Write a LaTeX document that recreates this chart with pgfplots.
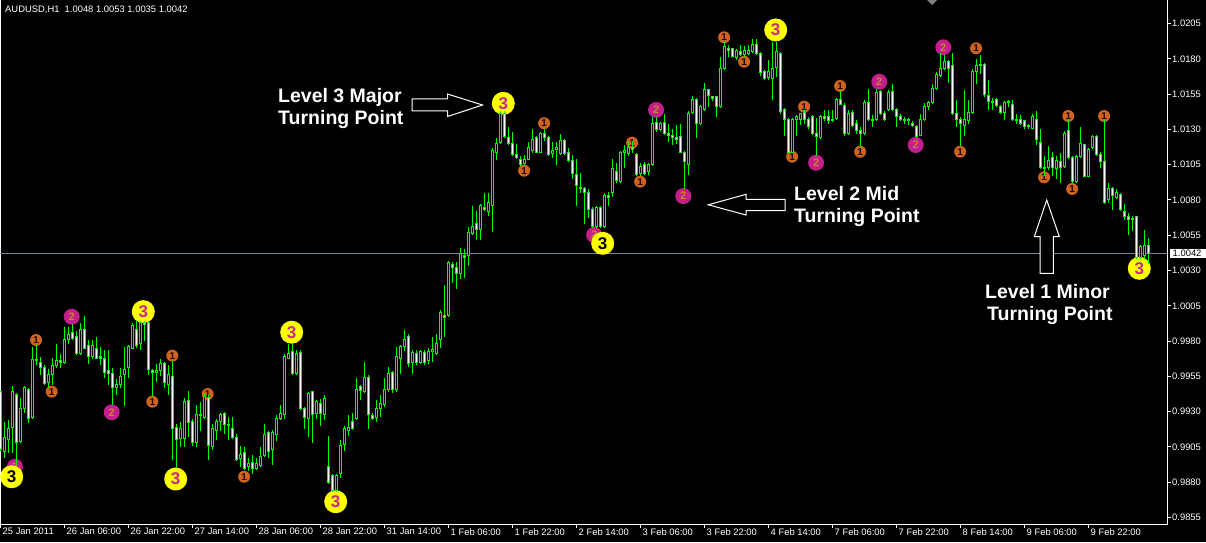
\documentclass[border=0pt]{standalone}
\usepackage{pgfplots}
\pgfplotsset{compat=1.18}
\usepackage{pgfplotstable}
\usepackage{fontspec}
\setmainfont{Liberation Sans}
\definecolor{candle}{RGB}{0,255,0}
\definecolor{tpyel}{RGB}{255,255,0}
\definecolor{tpmag}{RGB}{196,30,140}
\definecolor{tpdig}{RGB}{200,40,150}
\definecolor{tporg}{RGB}{205,100,30}
\definecolor{tptwo}{RGB}{200,130,40}
\definecolor{pricegray}{RGB}{119,136,153}
\newcommand\tickfont{\fontsize{9.4}{11}\selectfont}
\newcommand\annfont{\fontsize{19.5}{22}\selectfont\bfseries}

\newcommand\drawcandle{%
  \begingroup
  \pgfkeys{/pgf/fpu=true,/pgf/fpu/output format=fixed}%
  \pgfmathparse{(\candC-\candO)*14112.2}\xdef\cdB{\pgfmathresult}%
  \pgfmathparse{(\candH-\candO)*14112.2}\xdef\cdH{\pgfmathresult}%
  \pgfmathparse{(\candL-\candO)*14112.2}\xdef\cdL{\pgfmathresult}%
  \endgroup
  \pgfscope
  \pgfsetlinewidth{1pt}%
  \pgfsetstrokecolor{candle}%
  \pgfpathmoveto{\pgfpoint{0pt}{\cdL pt}}%
  \pgfpathlineto{\pgfpoint{0pt}{\cdH pt}}%
  \pgfusepathqstroke
  \ifdim\cdB pt<0pt \pgfsetfillcolor{white}\else\pgfsetfillcolor{black}\fi
  \pgfpathrectangle{\pgfpoint{-1pt}{0pt}}{\pgfpoint{2pt}{\cdB pt}}%
  \pgfusepathqfillstroke
  \endpgfscope}
\pgfdeclareplotmark{candlemk}{\drawcandle}
\pgfdeclareplotmark{tpthree}{\pgfscope
  \pgfpathcircle{\pgfpointorigin}{11.5pt}\pgfsetfillcolor{tpyel}\pgfusepathqfill
  \pgftext{\fontsize{17}{17}\selectfont\bfseries\color{tpdig}3}\endpgfscope}
\pgfdeclareplotmark{tpthreeb}{\pgfscope
  \pgfpathcircle{\pgfpointorigin}{11.5pt}\pgfsetfillcolor{tpyel}\pgfusepathqfill
  \pgftext{\fontsize{17}{17}\selectfont\bfseries\color{black}3}\endpgfscope}
\pgfdeclareplotmark{tptwo}{\pgfscope
  \pgfpathcircle{\pgfpointorigin}{8pt}\pgfsetfillcolor{tpmag}\pgfusepathqfill
  \pgftext{\fontsize{11}{11}\selectfont\bfseries\color{tptwo}2}\endpgfscope}
\pgfdeclareplotmark{tpone}{\pgfscope
  \pgfpathcircle{\pgfpointorigin}{6pt}\pgfsetfillcolor{tporg}\pgfusepathqfill
  \pgftext{\fontsize{10}{10}\selectfont\bfseries\color{black!85!red}1}\endpgfscope}

\pgfplotstableread{
i o h l c
0 0.9944 0.9945 0.9902 0.9903
1 0.9902 0.9923 0.9897 0.9912
2 0.9910 0.9924 0.9901 0.9918
3 0.9919 0.9948 0.9901 0.9944
4 0.9942 0.9943 0.9892 0.9908
5 0.9909 0.9940 0.9908 0.9932
6 0.9932 0.9948 0.9929 0.9947
7 0.9946 0.9947 0.9922 0.9925
8 0.9926 0.9976 0.9925 0.9967
9 0.9967 0.9977 0.9963 0.9966
10 0.9965 0.9969 0.9956 0.9961
11 0.9961 0.9963 0.9949 0.9950
12 0.9951 0.9960 0.9947 0.9956
13 0.9956 0.9968 0.9949 0.9963
14 0.9963 0.9978 0.9961 0.9966
15 0.9966 0.9971 0.9961 0.9965
16 0.9965 0.9990 0.9964 0.9981
17 0.9981 0.9990 0.9978 0.9985
18 0.9986 0.9992 0.9981 0.9982
19 0.9983 0.9987 0.9970 0.9971
20 0.9971 0.9993 0.9970 0.9988
21 0.9988 0.9998 0.9975 0.9975
22 0.9977 0.9981 0.9964 0.9969
23 0.9969 0.9981 0.9967 0.9977
24 0.9975 0.9983 0.9967 0.9968
25 0.9969 0.9976 0.9963 0.9968
26 0.9968 0.9974 0.9954 0.9958
27 0.9959 0.9974 0.9949 0.9957
28 0.9957 0.9961 0.9935 0.9947
29 0.9947 0.9953 0.9942 0.9949
30 0.9949 0.9961 0.9947 0.9955
31 0.9956 0.9976 0.9934 0.9960
32 0.9961 0.9977 0.9954 0.9976
33 0.9975 0.9993 0.9975 0.9991
34 0.9988 0.9994 0.9975 0.9977
35 0.9978 0.9994 0.9974 0.9993
36 0.9993 0.9994 0.9980 0.9992
37 0.9993 0.9994 0.9956 0.9960
38 0.9959 0.9960 0.9941 0.9958
39 0.9958 0.9964 0.9951 0.9959
40 0.9959 0.9967 0.9955 0.9964
41 0.9964 0.9965 0.9947 0.9951
42 0.9949 0.9963 0.9942 0.9956
43 0.9955 0.9966 0.9896 0.9918
44 0.9919 0.9921 0.9890 0.9910
45 0.9911 0.9923 0.9905 0.9918
46 0.9911 0.9940 0.9905 0.9937
47 0.9938 0.9945 0.9912 0.9922
48 0.9923 0.9925 0.9906 0.9908
49 0.9908 0.9935 0.9905 0.9928
50 0.9928 0.9937 0.9916 0.9927
51 0.9926 0.9943 0.9925 0.9941
52 0.9940 0.9942 0.9896 0.9906
53 0.9905 0.9921 0.9903 0.9918
54 0.9917 0.9925 0.9910 0.9923
55 0.9923 0.9929 0.9916 0.9928
56 0.9929 0.9930 0.9914 0.9921
57 0.9921 0.9926 0.9910 0.9920
58 0.9918 0.9926 0.9911 0.9912
59 0.9912 0.9914 0.9895 0.9896
60 0.9897 0.9906 0.9891 0.9900
61 0.9901 0.9905 0.9889 0.9890
62 0.9891 0.9897 0.9888 0.9893
63 0.9894 0.9899 0.9886 0.9890
64 0.9890 0.9897 0.9889 0.9893
65 0.9892 0.9905 0.9891 0.9898
66 0.9899 0.9921 0.9898 0.9914
67 0.9915 0.9916 0.9897 0.9902
68 0.9903 0.9917 0.9892 0.9915
69 0.9914 0.9928 0.9909 0.9925
70 0.9925 0.9935 0.9924 0.9929
71 0.9928 0.9971 0.9925 0.9969
72 0.9968 0.9978 0.9967 0.9971
73 0.9973 0.9978 0.9956 0.9957
74 0.9957 0.9974 0.9956 0.9971
75 0.9972 0.9974 0.9931 0.9932
76 0.9932 0.9933 0.9918 0.9926
77 0.9925 0.9944 0.9912 0.9943
78 0.9944 0.9945 0.9908 0.9928
79 0.9929 0.9938 0.9925 0.9937
80 0.9936 0.9939 0.9920 0.9929
81 0.9928 0.9942 0.9924 0.9939
82 0.9891 0.9913 0.9879 0.9880
83 0.9885 0.9886 0.9873 0.9874
84 0.9874 0.9886 0.9873 0.9885
85 0.9886 0.9910 0.9883 0.9906
86 0.9907 0.9920 0.9902 0.9918
87 0.9917 0.9928 0.9913 0.9919
88 0.9923 0.9929 0.9917 0.9918
89 0.9925 0.9954 0.9924 0.9946
90 0.9948 0.9949 0.9938 0.9945
91 0.9944 0.9965 0.9943 0.9954
92 0.9954 0.9956 0.9918 0.9928
93 0.9927 0.9929 0.9924 0.9925
94 0.9926 0.9938 0.9923 0.9932
95 0.9932 0.9942 0.9926 0.9936
96 0.9935 0.9954 0.9933 0.9946
97 0.9946 0.9962 0.9944 0.9957
98 0.9958 0.9959 0.9943 0.9946
99 0.9946 0.9976 0.9944 0.9969
100 0.9968 0.9977 0.9957 0.9976
101 0.9976 0.9988 0.9973 0.9981
102 0.9983 0.9985 0.9962 0.9964
103 0.9965 0.9974 0.9957 0.9972
104 0.9971 0.9974 0.9963 0.9965
105 0.9965 0.9974 0.9964 0.9973
106 0.9972 0.9974 0.9963 0.9965
107 0.9966 0.9975 0.9964 0.9973
108 0.9973 0.9983 0.9965 0.9974
109 0.9971 0.9985 0.9970 0.9978
110 0.9981 1.0002 0.9975 1.0000
111 0.9998 1.0020 0.9983 0.9997
112 0.9998 1.0037 0.9997 1.0036
113 1.0034 1.0036 1.0021 1.0032
114 1.0032 1.0036 1.0017 1.0028
115 1.0028 1.0046 1.0024 1.0042
116 1.0041 1.0045 1.0025 1.0039
117 1.0041 1.0061 1.0033 1.0057
118 1.0056 1.0076 1.0055 1.0061
119 1.0063 1.0072 1.0052 1.0059
120 1.0059 1.0077 1.0052 1.0076
121 1.0075 1.0085 1.0072 1.0073
122 1.0072 1.0085 1.0069 1.0078
123 1.0076 1.0117 1.0057 1.0115
124 1.0114 1.0124 1.0108 1.0120
125 1.0121 1.0143 1.0120 1.0141
126 1.0141 1.0143 1.0124 1.0125
127 1.0124 1.0132 1.0119 1.0120
128 1.0120 1.0128 1.0111 1.0112
129 1.0112 1.0120 1.0109 1.0110
130 1.0109 1.0111 1.0104 1.0105
131 1.0106 1.0112 1.0105 1.0109
132 1.0109 1.0121 1.0108 1.0117
133 1.0115 1.0130 1.0113 1.0123
134 1.0124 1.0125 1.0113 1.0114
135 1.0114 1.0128 1.0113 1.0127
136 1.0127 1.0130 1.0122 1.0124
137 1.0124 1.0125 1.0111 1.0112
138 1.0113 1.0121 1.0110 1.0115
139 1.0116 1.0121 1.0105 1.0117
140 1.0113 1.0127 1.0112 1.0122
141 1.0122 1.0123 1.0112 1.0113
142 1.0114 1.0117 1.0107 1.0108
143 1.0108 1.0112 1.0095 1.0099
144 1.0098 1.0109 1.0076 1.0090
145 1.0089 1.0099 1.0085 1.0088
146 1.0088 1.0089 1.0063 1.0085
147 1.0085 1.0088 1.0067 1.0073
148 1.0073 1.0075 1.0060 1.0061
149 1.0061 1.0076 1.0060 1.0075
150 1.0075 1.0076 1.0060 1.0061
151 1.0061 1.0085 1.0060 1.0083
152 1.0083 1.0086 1.0076 1.0082
153 1.0085 1.0109 1.0082 1.0102
154 1.0100 1.0106 1.0092 1.0094
155 1.0093 1.0115 1.0092 1.0114
156 1.0114 1.0119 1.0103 1.0115
157 1.0113 1.0121 1.0111 1.0117
158 1.0117 1.0122 1.0113 1.0116
159 1.0112 1.0113 1.0097 1.0098
160 1.0099 1.0106 1.0097 1.0104
161 1.0105 1.0107 1.0098 1.0099
162 1.0100 1.0106 1.0098 1.0105
163 1.0105 1.0139 1.0104 1.0134
164 1.0135 1.0139 1.0128 1.0130
165 1.0130 1.0135 1.0129 1.0134
166 1.0135 1.0141 1.0126 1.0127
167 1.0127 1.0134 1.0121 1.0126
168 1.0126 1.0130 1.0119 1.0124
169 1.0124 1.0133 1.0120 1.0123
170 1.0125 1.0134 1.0113 1.0114
171 1.0114 1.0115 1.0088 1.0107
172 1.0105 1.0143 1.0098 1.0141
173 1.0142 1.0154 1.0141 1.0151
174 1.0151 1.0152 1.0124 1.0134
175 1.0134 1.0147 1.0133 1.0146
176 1.0144 1.0163 1.0143 1.0158
177 1.0158 1.0159 1.0146 1.0154
178 1.0153 1.0154 1.0150 1.0152
179 1.0153 1.0154 1.0139 1.0146
180 1.0146 1.0181 1.0145 1.0173
181 1.0173 1.0192 1.0172 1.0189
182 1.0187 1.0190 1.0181 1.0186
183 1.0187 1.0188 1.0181 1.0182
184 1.0181 1.0187 1.0179 1.0186
185 1.0185 1.0190 1.0182 1.0183
186 1.0183 1.0189 1.0181 1.0186
187 1.0184 1.0190 1.0183 1.0186
188 1.0185 1.0194 1.0184 1.0190
189 1.0190 1.0194 1.0183 1.0184
190 1.0184 1.0185 1.0168 1.0170
191 1.0171 1.0172 1.0165 1.0166
192 1.0167 1.0179 1.0165 1.0171
193 1.0166 1.0192 1.0151 1.0173
194 1.0174 1.0192 1.0167 1.0185
195 1.0184 1.0185 1.0141 1.0143
196 1.0144 1.0145 1.0125 1.0137
197 1.0137 1.0138 1.0113 1.0114
198 1.0114 1.0138 1.0113 1.0137
199 1.0137 1.0140 1.0125 1.0139
200 1.0137 1.0142 1.0133 1.0141
201 1.0142 1.0144 1.0134 1.0137
202 1.0137 1.0139 1.0130 1.0132
203 1.0139 1.0140 1.0126 1.0127
204 1.0127 1.0138 1.0111 1.0125
205 1.0124 1.0140 1.0123 1.0139
206 1.0139 1.0144 1.0136 1.0138
207 1.0139 1.0144 1.0134 1.0136
208 1.0136 1.0144 1.0135 1.0137
209 1.0138 1.0152 1.0137 1.0151
210 1.0151 1.0157 1.0147 1.0148
211 1.0147 1.0149 1.0125 1.0127
212 1.0127 1.0144 1.0126 1.0141
213 1.0142 1.0144 1.0132 1.0133
214 1.0134 1.0137 1.0127 1.0129
215 1.0129 1.0132 1.0118 1.0127
216 1.0127 1.0151 1.0126 1.0149
217 1.0149 1.0159 1.0136 1.0137
218 1.0137 1.0140 1.0132 1.0136
219 1.0137 1.0159 1.0136 1.0156
220 1.0157 1.0158 1.0140 1.0141
221 1.0141 1.0143 1.0136 1.0137
222 1.0144 1.0158 1.0143 1.0156
223 1.0157 1.0162 1.0143 1.0144
224 1.0144 1.0145 1.0132 1.0139
225 1.0139 1.0141 1.0136 1.0137
226 1.0137 1.0139 1.0134 1.0136
227 1.0136 1.0138 1.0133 1.0137
228 1.0134 1.0136 1.0132 1.0133
229 1.0132 1.0133 1.0124 1.0125
230 1.0126 1.0141 1.0125 1.0137
231 1.0137 1.0149 1.0136 1.0146
232 1.0146 1.0150 1.0144 1.0149
233 1.0149 1.0162 1.0148 1.0159
234 1.0159 1.0171 1.0158 1.0169
235 1.0168 1.0184 1.0167 1.0173
236 1.0173 1.0183 1.0172 1.0178
237 1.0178 1.0179 1.0163 1.0173
238 1.0175 1.0184 1.0140 1.0141
239 1.0141 1.0151 1.0132 1.0137
240 1.0137 1.0139 1.0118 1.0134
241 1.0133 1.0158 1.0125 1.0137
242 1.0136 1.0151 1.0134 1.0142
243 1.0142 1.0173 1.0141 1.0171
244 1.0171 1.0180 1.0162 1.0175
245 1.0175 1.0183 1.0169 1.0176
246 1.0176 1.0177 1.0153 1.0155
247 1.0154 1.0165 1.0144 1.0150
248 1.0150 1.0152 1.0144 1.0149
249 1.0151 1.0152 1.0146 1.0147
250 1.0146 1.0147 1.0141 1.0142
251 1.0142 1.0150 1.0137 1.0149
252 1.0149 1.0151 1.0146 1.0150
253 1.0148 1.0151 1.0136 1.0137
254 1.0137 1.0141 1.0134 1.0136
255 1.0137 1.0140 1.0133 1.0134
256 1.0136 1.0137 1.0130 1.0132
257 1.0133 1.0134 1.0130 1.0132
258 1.0131 1.0141 1.0130 1.0139
259 1.0137 1.0143 1.0119 1.0123
260 1.0121 1.0130 1.0102 1.0103
261 1.0102 1.0111 1.0097 1.0103
262 1.0103 1.0118 1.0101 1.0108
263 1.0110 1.0114 1.0097 1.0103
264 1.0102 1.0111 1.0095 1.0108
265 1.0107 1.0113 1.0092 1.0103
266 1.0104 1.0129 1.0103 1.0127
267 1.0129 1.0137 1.0109 1.0110
268 1.0110 1.0111 1.0092 1.0093
269 1.0093 1.0112 1.0092 1.0111
270 1.0111 1.0132 1.0110 1.0120
271 1.0119 1.0120 1.0096 1.0097
272 1.0097 1.0117 1.0096 1.0116
273 1.0117 1.0126 1.0116 1.0125
274 1.0125 1.0126 1.0111 1.0112
275 1.0112 1.0114 1.0103 1.0107
276 1.0107 1.0137 1.0077 1.0078
277 1.0080 1.0092 1.0078 1.0088
278 1.0088 1.0089 1.0073 1.0083
279 1.0082 1.0088 1.0081 1.0085
280 1.0084 1.0085 1.0072 1.0073
281 1.0072 1.0077 1.0066 1.0068
282 1.0068 1.0071 1.0055 1.0066
283 1.0067 1.0069 1.0058 1.0066
284 1.0068 1.0069 1.0038 1.0039
285 1.0039 1.0048 1.0038 1.0047
286 1.0041 1.0059 1.0038 1.0048
287 1.0048 1.0053 1.0035 1.0042
}\candles

\begin{document}
\begin{tikzpicture}[x=1pt,y=1pt]
\useasboundingbox (0,-18) rectangle (1206,524);
\fill[black] (0,-18) rectangle (1206,524);
\begin{axis}[
  at={(0,0)}, anchor=south west,
  width=1167pt, height=524pt, scale only axis,
  xmin=-0.125, xmax=291.625,
  ymin=0.985041, ymax=1.022172,
  axis background/.style={fill=black},
  axis line style={white, line width=1pt},
  xtick={0,16,...,272},
  xticklabels={25 Jan 2011,26 Jan 06:00,26 Jan 22:00,27 Jan 14:00,28 Jan 06:00,28 Jan 22:00,31 Jan 14:00,1 Feb 06:00,1 Feb 22:00,2 Feb 14:00,3 Feb 06:00,3 Feb 22:00,4 Feb 14:00,7 Feb 06:00,7 Feb 22:00,8 Feb 14:00,9 Feb 06:00,9 Feb 22:00},
  ytick={0.9855,0.9880,0.9905,0.9930,0.9955,0.9980,1.0005,1.0030,1.0055,1.0080,1.0105,1.0130,1.0155,1.0180,1.0205},
  yticklabels={0.9855,0.9880,0.9905,0.9930,0.9955,0.9980,1.0005,1.0030,1.0055,1.0080,1.0105,1.0130,1.0155,1.0180,1.0205},
  xtick pos=left, ytick pos=right, yticklabel pos=right,
  tick align=outside, major tick length=4pt,
  tick style={white, line width=1pt},
  xticklabel style={text=white, font=\tickfont, anchor=north west, inner sep=0pt, xshift=2pt},
  yticklabel style={text=white, font=\tickfont, anchor=west, inner sep=0pt, xshift=1pt},
]
\draw[pricegray, line width=1pt] (axis cs:-0.125,1.0042) -- (axis cs:291.625,1.0042);
% turning point markers
\addplot[only marks, mark=tptwo] coordinates {(3.6,0.98910) (17.8,0.99973) (27.8,0.99296) (148.4,1.00552) (163.9,1.01438) (170.7,1.00828) (203.9,1.01064) (219.7,1.01638) (228.8,1.01190) (235.7,1.01882)};
\addplot[only marks, mark=tpone] coordinates {(8.9,0.99808) (12.8,0.99442) (37.95,0.99371) (42.95,0.99697) (51.8,0.99425) (60.9,0.98839) (130.9,1.01008) (135.9,1.01344) (157.9,1.01206) (159.9,1.00930) (180.9,1.01953) (185.9,1.01780) (197.9,1.01107) (200.9,1.01461) (209.9,1.01608) (214.9,1.01142) (239.9,1.01142) (243.9,1.01875) (260.9,1.00961) (266.95,1.01395) (267.9,1.00878) (275.9,1.01395)};
\addplot[only marks, mark=tpthree] coordinates {(35.7,1.00009) (43.8,0.98823) (72.8,0.99863) (83.8,0.98662) (125.7,1.01485) (193.8,1.02005) (284.7,1.00316)};
\addplot[only marks, mark=tpthreeb] coordinates {(2.8,0.98839) (150.55,1.00493)};
% candles
\addplot[only marks, mark=candlemk,
  visualization depends on={\thisrow{o}\as\candO},
  visualization depends on={\thisrow{h}\as\candH},
  visualization depends on={\thisrow{l}\as\candL},
  visualization depends on={\thisrow{c}\as\candC}]
  table[x=i, y=o] {\candles};
\end{axis}
% title
\node[anchor=base west, text=white, font=\tickfont, inner sep=0pt] at (5,511.8) {AUDUSD,H1\ \ 1.0048 1.0053 1.0035 1.0042};
% chart shift marker
\fill[gray] (927,524) -- (937,524) -- (932,519) -- cycle;
% current price box
\fill[white] (1170.4,265.8) rectangle (1206,275.1);
\node[anchor=west, text=black, font=\tickfont, inner sep=0pt] at (1172.5,270.4) {1.0042};
% annotations
\node[anchor=base west, text=white, font=\annfont, inner sep=0pt] at (278,421.3) {Level 3 Major};
\node[anchor=base west, text=white, font=\annfont, inner sep=0pt] at (278,399.7) {Turning Point};
\node[anchor=base west, text=white, font=\annfont, inner sep=0pt] at (794,323.3) {Level 2 Mid};
\node[anchor=base west, text=white, font=\annfont, inner sep=0pt] at (794,302) {Turning Point};
\node[anchor=base west, text=white, font=\annfont, inner sep=0pt] at (985,225.5) {Level 1 Minor};
\node[anchor=base west, text=white, font=\annfont, inner sep=0pt] at (987,203.4) {Turning Point};
\draw[white, line width=1pt, fill=black] (412,425) -- (447.5,425) -- (447.5,430) -- (482.5,419) -- (447.5,407.5) -- (447.5,413) -- (412,413) -- cycle;
\draw[white, line width=1pt, fill=black] (785,324.7) -- (746,324.7) -- (746,329.7) -- (708.3,319.2) -- (746,309) -- (746,313.3) -- (785,313.3) -- cycle;
\draw[white, line width=1pt, fill=black] (1040,250.7) -- (1040,287.3) -- (1034.3,287.3) -- (1046.7,324) -- (1059.3,287.3) -- (1053.3,287.3) -- (1053.3,250.7) -- cycle;
\end{tikzpicture}
\end{document}
